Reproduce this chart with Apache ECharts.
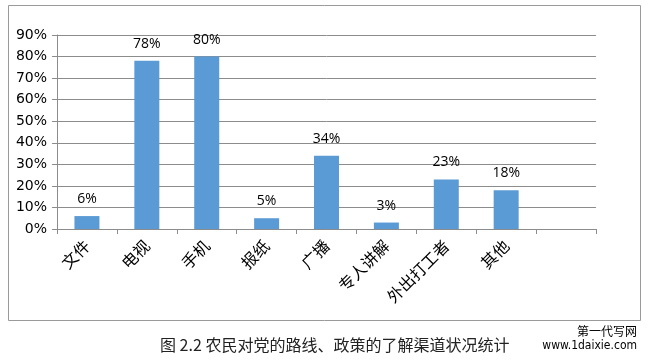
<!DOCTYPE html>
<html><head><meta charset="utf-8">
<script src="https://cdn.jsdelivr.net/npm/echarts@6/dist/echarts.min.js"></script>
<style>html,body{margin:0;padding:0;background:#fff}#c{width:649px;height:361px}</style>
</head><body><div id="c"></div>
<script>
const categories = ['文件','电视','手机','报纸','广播','专人讲解','外出打工者','其他',''];
const values = [6,78,80,5,34,3,23,18,null];
const yTicks = {min:0, max:90, interval:10};
const caption = '图 2.2 农民对党的路线、政策的了解渠道状况统计';
const watermark = ['第一代写网','www.1daixie.com'];

const chart = echarts.init(document.getElementById('c'), null, {renderer:'canvas'});
chart.setOption({
  animation:false,
  backgroundColor:'#fff',
  grid:{left:57, right:53, top:35, bottom:132},
  xAxis:{
    type:'category', data:categories, boundaryGap:true,
    axisLine:{lineStyle:{color:'#8c8c8c', width:1}},
    axisTick:{show:true, interval:0, length:5, lineStyle:{color:'#8c8c8c'}},
    axisLabel:{interval:0, rotate:45, fontSize:16, color:'#000', margin:14,
      fontFamily:'"Noto Sans CJK SC", sans-serif'}
  },
  yAxis:{
    type:'value', min:yTicks.min, max:yTicks.max, interval:yTicks.interval,
    axisLine:{show:true, lineStyle:{color:'#8c8c8c'}},
    axisTick:{show:true, length:5, lineStyle:{color:'#8c8c8c'}},
    axisLabel:{formatter:'{value}%', fontSize:14, color:'#000', margin:10,
      fontFamily:'"DejaVu Sans", Verdana, sans-serif'},
    splitLine:{lineStyle:{color:'#8c8c8c', width:1}}
  },
  series:[{
    type:'bar', data:values, barWidth:25,
    itemStyle:{color:'#5B9BD5'},
    label:{show:true, position:'top', distance:10, formatter:'{c}%',
      fontSize:14, color:'#000', fontFamily:'"Open Sans", sans-serif'}
  }],
  graphic:[
    {type:'rect', shape:{x:8.5, y:5.5, width:632, height:315},
      style:{fill:null, stroke:'#9a9a9a', lineWidth:1}, z:-1},
    {type:'text', left:160, top:337,
      style:{text:caption, fontSize:16, fill:'#222', fontFamily:'"Noto Sans CJK SC", serif'}},
    {type:'text', right:12, top:325,
      style:{text:watermark[0], fontSize:12, fill:'#000', fontFamily:'"Noto Sans CJK SC", sans-serif'}},
    {type:'text', right:12, top:340,
      style:{text:watermark[1], fontSize:12, fill:'#000', fontFamily:'"DejaVu Sans Condensed", sans-serif'}}
  ]
});
</script></body></html>
